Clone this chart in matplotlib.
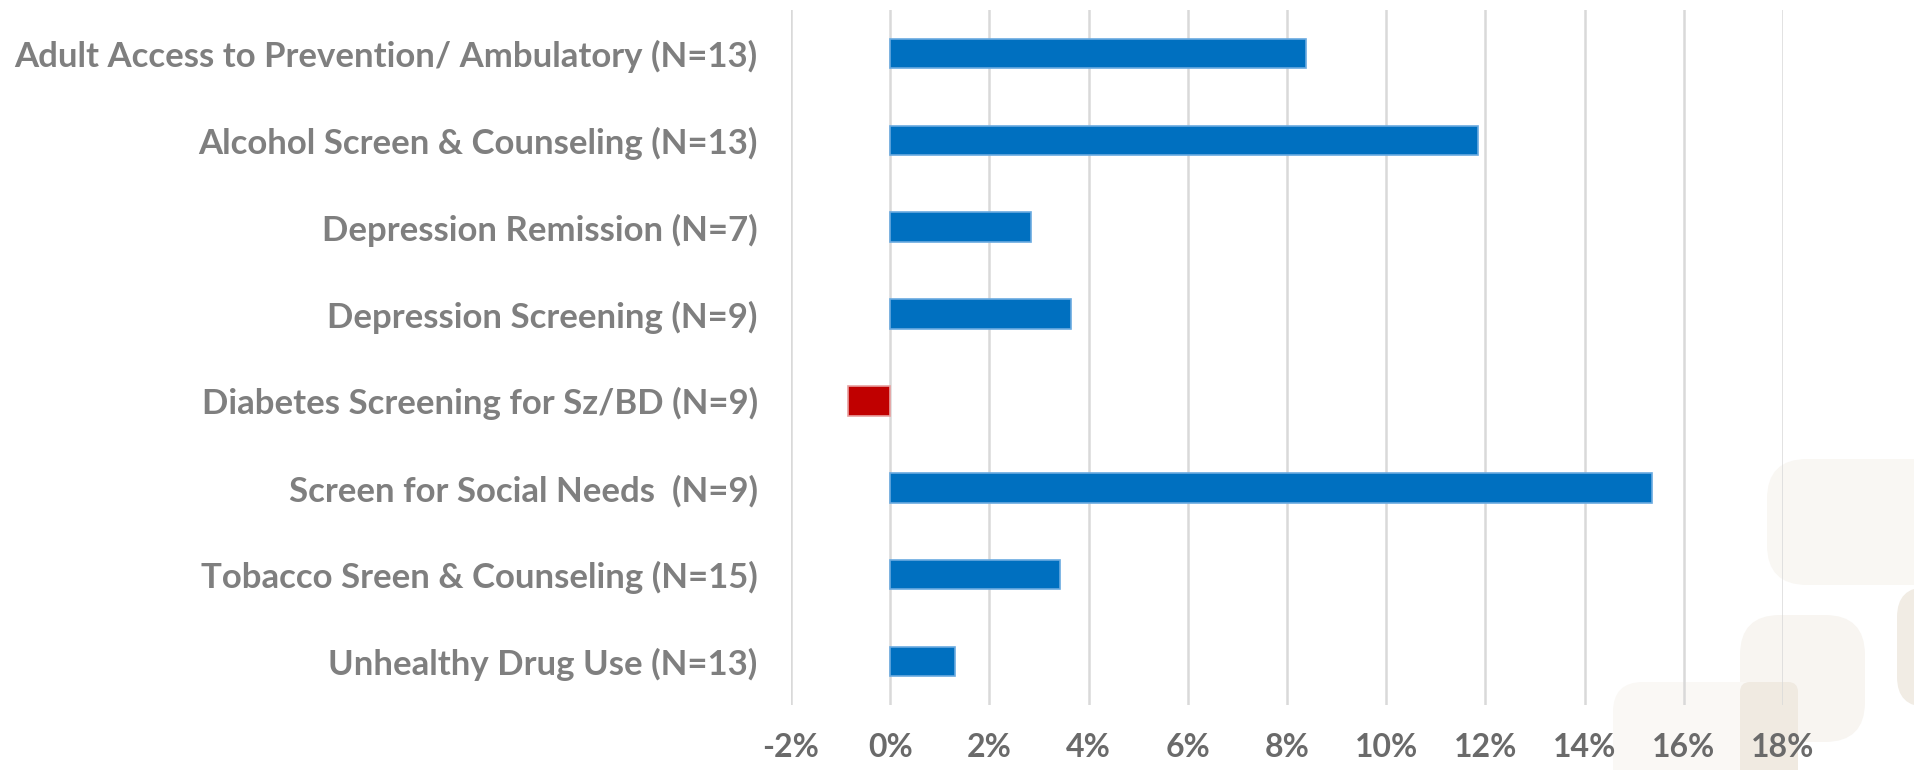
import matplotlib
matplotlib.use("Agg")
import matplotlib.pyplot as plt
from matplotlib.patches import FancyBboxPatch
import numpy as np

categories = [
    "Adult Access to Prevention/ Ambulatory (N=13)",
    "Alcohol Screen & Counseling (N=13)",
    "Depression Remission (N=7)",
    "Depression Screening (N=9)",
    "Diabetes Screening for Sz/BD (N=9)",
    "Screen for Social Needs  (N=9)",
    "Tobacco Sreen & Counseling (N=15)",
    "Unhealthy Drug Use (N=13)",
]
values = [8.38, 11.86, 2.84, 3.65, -0.86, 15.36, 3.43, 1.31]
tick_values = [-2, 0, 2, 4, 6, 8, 10, 12, 14, 16, 18]
tick_labels = ["-2%", "0%", "2%", "4%", "6%", "8%", "10%", "12%", "14%", "16%", "18%"]

W, H = 1915, 770
fig = plt.figure(figsize=(W / 100, H / 100), dpi=100)
fig.patch.set_facecolor("white")

# faint decorative background shapes (bottom right)
def px_box(x0, y0, x1, y1, color, r=30):
    p = FancyBboxPatch((x0 / W, 1 - y1 / H), (x1 - x0) / W, (y1 - y0) / H,
                       boxstyle=f"round,pad=0,rounding_size={r / W}",
                       transform=fig.transFigure, facecolor=color, edgecolor="none",
                       zorder=-5, mutation_aspect=W / H)
    fig.patches.append(p)

px_box(1767, 459, 1990, 585, "#f9f7f3", 40)
px_box(1740, 615, 1865, 742, "#f8f5f1", 40)
px_box(1897, 587, 1990, 707, "#f1ece4", 30)
px_box(1613, 682, 1798, 800, "#faf8f5", 30)
px_box(1740, 682, 1798, 800, "#f0eae1", 10)

ax = fig.add_axes([791 / W, 1 - 705 / H, (1783 - 791) / W, (705 - 10) / H])
ax.set_zorder(2)
ax.patch.set_alpha(0)

y = np.arange(len(categories))
colors = ["#c00000" if v < 0 else "#0070c0" for v in values]
edges = ["#e8a0a0" if v < 0 else "#6aaae0" for v in values]
ax.barh(y, values, height=0.34, color=colors, edgecolor=edges, linewidth=1.2, zorder=3)

ax.set_xlim(-2, 18)
ax.set_ylim(len(categories) - 0.5, -0.5)
ax.set_xticks(tick_values)
ax.set_xticklabels(tick_labels)
ax.set_yticks(y)
ax.set_yticklabels(categories)
ax.xaxis.grid(True, color="#d9d9d9", linewidth=1.8, zorder=0)
ax.set_axisbelow(True)
for s in ax.spines.values():
    s.set_visible(False)
ax.tick_params(axis="both", length=0)
ax.tick_params(axis="x", pad=20, labelsize=23, labelcolor="#6a6a6a")
ax.tick_params(axis="y", pad=24, labelsize=25, labelcolor="#7f7f7f")
for lbl in ax.get_xticklabels() + ax.get_yticklabels():
    lbl.set_fontfamily("Lato")
    lbl.set_fontweight("bold")

fig.savefig("out.png", dpi=100, facecolor="white")
